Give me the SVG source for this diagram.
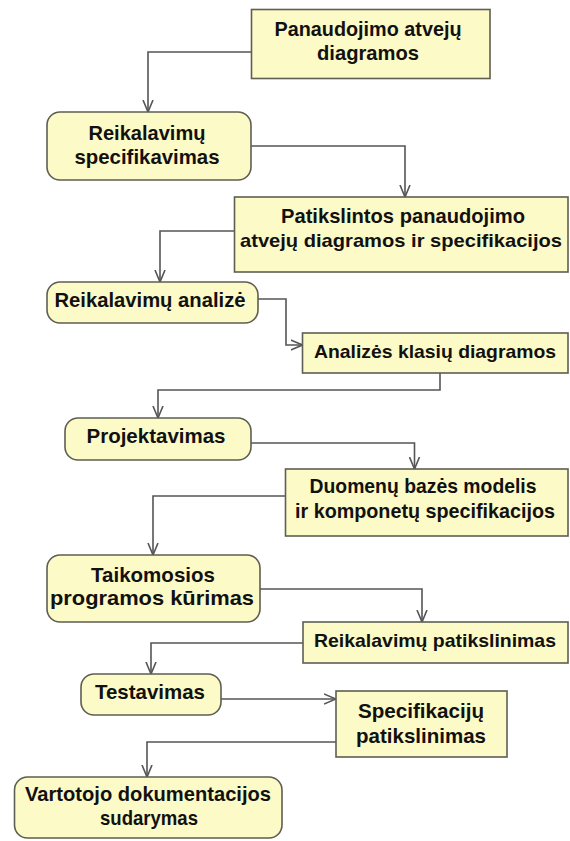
<svg xmlns="http://www.w3.org/2000/svg" width="570" height="841" viewBox="0 0 570 841">
  <style>
    .box { fill: #fcfac6; stroke: #5e5e52; stroke-width: 1.6; }
    .act { fill: #fcfac6; stroke: #5e5e52; stroke-width: 1.6; }
    text { font-family: "Liberation Sans", Arial, sans-serif; font-weight: bold; font-size: 21px; fill: #111111; text-anchor: middle; }
    text.long { font-size: 19px; }
    .edge { fill: none; stroke: #555; stroke-width: 1.6; marker-end: url(#arrow); }
  </style>
  <defs>
    <marker id="arrow" viewBox="0 0 12 12" refX="12" refY="6" markerWidth="12" markerHeight="12" markerUnits="userSpaceOnUse" orient="auto">
      <path d="M0,1 L12,6 L0,11" fill="none" stroke="#555" stroke-width="1.6"/>
    </marker>
  </defs>
  <rect width="570" height="841" fill="#ffffff"/>

  <g id="connectors">
    <polyline class="edge" points="251,52 148,52 148,112"/>
    <polyline class="edge" points="251,146 405,146 405,197"/>
    <polyline class="edge" points="234.5,231 160,231 160,282"/>
    <polyline class="edge" points="258,299 286,299 286,345 302.5,345"/>
    <polyline class="edge" points="440,373 440,390 158,390 158,418"/>
    <polyline class="edge" points="251,443 414.5,443 414.5,469"/>
    <polyline class="edge" points="285.5,496 153,496 153,555"/>
    <polyline class="edge" points="260,589 422,589 422,622"/>
    <polyline class="edge" points="303,643 151,643 151,674"/>
    <polyline class="edge" points="221,699 336,699"/>
    <polyline class="edge" points="336,742 147,742 147,777"/>
  </g>

  <g id="use-case-diagrams">
    <rect class="box" x="251.5" y="9.5" width="238.5" height="69"/>
    <text x="368" y="36" textLength="187" lengthAdjust="spacingAndGlyphs">Panaudojimo atvejų</text>
    <text x="368" y="60" textLength="102" lengthAdjust="spacingAndGlyphs">diagramos</text>
  </g>

  <g id="requirements-specification">
    <rect class="act" x="47" y="112" width="204" height="68" rx="13"/>
    <text x="147" y="140" textLength="117" lengthAdjust="spacingAndGlyphs">Reikalavimų</text>
    <text x="147" y="164" textLength="145" lengthAdjust="spacingAndGlyphs">specifikavimas</text>
  </g>

  <g id="refined-use-cases">
    <rect class="box" x="234.5" y="197" width="333.5" height="75"/>
    <text x="403" y="223" textLength="244" lengthAdjust="spacingAndGlyphs">Patikslintos panaudojimo</text>
    <text class="long" x="401" y="247" textLength="322" lengthAdjust="spacingAndGlyphs">atvejų diagramos ir specifikacijos</text>
  </g>

  <g id="requirements-analysis">
    <rect class="act" x="47" y="282" width="211" height="41" rx="13"/>
    <text x="150" y="307" textLength="191" lengthAdjust="spacingAndGlyphs">Reikalavimų analizė</text>
  </g>

  <g id="analysis-class-diagrams">
    <rect class="box" x="302.5" y="333" width="265.5" height="40"/>
    <text class="long" x="435" y="358" textLength="242" lengthAdjust="spacingAndGlyphs">Analizės klasių diagramos</text>
  </g>

  <g id="design">
    <rect class="act" x="65" y="418" width="186" height="42" rx="13"/>
    <text x="156" y="443" textLength="139" lengthAdjust="spacingAndGlyphs">Projektavimas</text>
  </g>

  <g id="database-model">
    <rect class="box" x="285.5" y="469" width="282.5" height="67"/>
    <text x="423" y="493" textLength="227" lengthAdjust="spacingAndGlyphs">Duomenų bazės modelis</text>
    <text x="425" y="518" textLength="260" lengthAdjust="spacingAndGlyphs">ir komponetų specifikacijos</text>
  </g>

  <g id="application-development">
    <rect class="act" x="47" y="555" width="213" height="67" rx="13"/>
    <text x="153" y="582" textLength="124" lengthAdjust="spacingAndGlyphs">Taikomosios</text>
    <text x="152" y="605" textLength="204" lengthAdjust="spacingAndGlyphs">programos kūrimas</text>
  </g>

  <g id="requirements-refinement">
    <rect class="box" x="303" y="622" width="265" height="41"/>
    <text class="long" x="435" y="647" textLength="242" lengthAdjust="spacingAndGlyphs">Reikalavimų patikslinimas</text>
  </g>

  <g id="testing">
    <rect class="act" x="81" y="674" width="140" height="41" rx="13"/>
    <text x="150" y="699" textLength="110" lengthAdjust="spacingAndGlyphs">Testavimas</text>
  </g>

  <g id="specification-refinement">
    <rect class="box" x="336" y="691" width="171" height="66"/>
    <text x="421" y="718" textLength="126" lengthAdjust="spacingAndGlyphs">Specifikacijų</text>
    <text x="421" y="743" textLength="130" lengthAdjust="spacingAndGlyphs">patikslinimas</text>
  </g>

  <g id="user-documentation">
    <rect class="act" x="14.5" y="777" width="267.5" height="61" rx="13"/>
    <text x="148" y="801" textLength="246" lengthAdjust="spacingAndGlyphs">Vartotojo dokumentacijos</text>
    <text x="149" y="825" textLength="98" lengthAdjust="spacingAndGlyphs">sudarymas</text>
  </g>
</svg>
